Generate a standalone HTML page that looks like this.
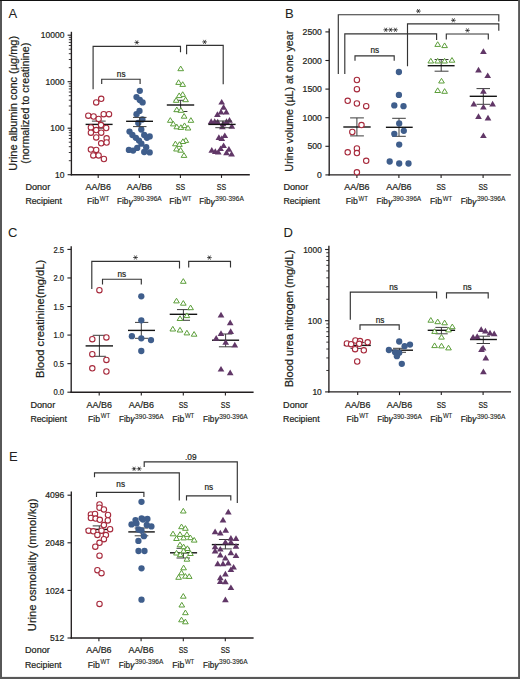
<!DOCTYPE html>
<html><head><meta charset="utf-8"><title>Figure</title>
<style>
html,body{margin:0;padding:0;background:#fff;}
body{width:520px;height:679px;overflow:hidden;position:relative;}
svg{position:absolute;left:0;top:0;display:block;}
text{font-family:"Liberation Sans",sans-serif;stroke:#231f20;stroke-width:0.22px;}
</style></head>
<body>
<svg width="520" height="679" viewBox="0 0 520 679" fill="#231f20">
<rect x="0" y="0" width="520" height="679" fill="#fff"/>
<text x="8.5" y="18.4" font-size="13" style="stroke-width:0.05px">A</text>
<line x1="71.4" y1="31.8" x2="71.4" y2="175.4" stroke="#231f20" stroke-width="1.35"/>
<line x1="67.6" y1="35.2" x2="71.4" y2="35.2" stroke="#231f20" stroke-width="1.1"/>
<text x="64.4" y="38.3" font-size="8.6" text-anchor="end" textLength="23.6" lengthAdjust="spacingAndGlyphs">10000</text>
<line x1="67.6" y1="81.7" x2="71.4" y2="81.7" stroke="#231f20" stroke-width="1.1"/>
<text x="64.4" y="84.8" font-size="8.6" text-anchor="end" textLength="18.9" lengthAdjust="spacingAndGlyphs">1000</text>
<line x1="67.6" y1="128.2" x2="71.4" y2="128.2" stroke="#231f20" stroke-width="1.1"/>
<text x="64.4" y="131.3" font-size="8.6" text-anchor="end" textLength="14.2" lengthAdjust="spacingAndGlyphs">100</text>
<line x1="67.6" y1="174.7" x2="71.4" y2="174.7" stroke="#231f20" stroke-width="1.1"/>
<text x="64.4" y="177.8" font-size="8.6" text-anchor="end" textLength="9.5" lengthAdjust="spacingAndGlyphs">10</text>
<line x1="68.8" y1="160.7" x2="71.4" y2="160.7" stroke="#231f20" stroke-width="0.9"/>
<line x1="68.8" y1="152.51" x2="71.4" y2="152.51" stroke="#231f20" stroke-width="0.9"/>
<line x1="68.8" y1="146.7" x2="71.4" y2="146.7" stroke="#231f20" stroke-width="0.9"/>
<line x1="68.8" y1="142.2" x2="71.4" y2="142.2" stroke="#231f20" stroke-width="0.9"/>
<line x1="68.8" y1="138.52" x2="71.4" y2="138.52" stroke="#231f20" stroke-width="0.9"/>
<line x1="68.8" y1="135.4" x2="71.4" y2="135.4" stroke="#231f20" stroke-width="0.9"/>
<line x1="68.8" y1="132.71" x2="71.4" y2="132.71" stroke="#231f20" stroke-width="0.9"/>
<line x1="68.8" y1="130.33" x2="71.4" y2="130.33" stroke="#231f20" stroke-width="0.9"/>
<line x1="68.8" y1="114.2" x2="71.4" y2="114.2" stroke="#231f20" stroke-width="0.9"/>
<line x1="68.8" y1="106.01" x2="71.4" y2="106.01" stroke="#231f20" stroke-width="0.9"/>
<line x1="68.8" y1="100.2" x2="71.4" y2="100.2" stroke="#231f20" stroke-width="0.9"/>
<line x1="68.8" y1="95.7" x2="71.4" y2="95.7" stroke="#231f20" stroke-width="0.9"/>
<line x1="68.8" y1="92.02" x2="71.4" y2="92.02" stroke="#231f20" stroke-width="0.9"/>
<line x1="68.8" y1="88.9" x2="71.4" y2="88.9" stroke="#231f20" stroke-width="0.9"/>
<line x1="68.8" y1="86.21" x2="71.4" y2="86.21" stroke="#231f20" stroke-width="0.9"/>
<line x1="68.8" y1="83.83" x2="71.4" y2="83.83" stroke="#231f20" stroke-width="0.9"/>
<line x1="68.8" y1="67.7" x2="71.4" y2="67.7" stroke="#231f20" stroke-width="0.9"/>
<line x1="68.8" y1="59.51" x2="71.4" y2="59.51" stroke="#231f20" stroke-width="0.9"/>
<line x1="68.8" y1="53.7" x2="71.4" y2="53.7" stroke="#231f20" stroke-width="0.9"/>
<line x1="68.8" y1="49.2" x2="71.4" y2="49.2" stroke="#231f20" stroke-width="0.9"/>
<line x1="68.8" y1="45.52" x2="71.4" y2="45.52" stroke="#231f20" stroke-width="0.9"/>
<line x1="68.8" y1="42.4" x2="71.4" y2="42.4" stroke="#231f20" stroke-width="0.9"/>
<line x1="68.8" y1="39.71" x2="71.4" y2="39.71" stroke="#231f20" stroke-width="0.9"/>
<line x1="68.8" y1="37.33" x2="71.4" y2="37.33" stroke="#231f20" stroke-width="0.9"/>
<line x1="70.7" y1="174.7" x2="249.8" y2="174.7" stroke="#231f20" stroke-width="1.35"/>
<line x1="98.2" y1="174.7" x2="98.2" y2="177.9" stroke="#231f20" stroke-width="1.1"/>
<line x1="139.4" y1="174.7" x2="139.4" y2="177.9" stroke="#231f20" stroke-width="1.1"/>
<line x1="180.4" y1="174.7" x2="180.4" y2="177.9" stroke="#231f20" stroke-width="1.1"/>
<line x1="221.5" y1="174.7" x2="221.5" y2="177.9" stroke="#231f20" stroke-width="1.1"/>
<text transform="translate(16.8,103.3) rotate(-90)" font-size="10.5" text-anchor="middle" textLength="134.7" lengthAdjust="spacingAndGlyphs">Urine albumin conc (µg/mg)</text>
<text transform="translate(29,103.2) rotate(-90)" font-size="10.5" text-anchor="middle" textLength="121" lengthAdjust="spacingAndGlyphs">(normalized to creatinine)</text>
<text x="25.4" y="190.2" font-size="9" textLength="24.8" lengthAdjust="spacingAndGlyphs">Donor</text>
<text x="25.4" y="204.3" font-size="9" textLength="36.5" lengthAdjust="spacingAndGlyphs">Recipient</text>
<text x="98.2" y="190.2" font-size="9" text-anchor="middle" textLength="25.3" lengthAdjust="spacingAndGlyphs">AA/B6</text>
<text x="87.1" y="204.3" font-size="9" textLength="12" lengthAdjust="spacingAndGlyphs">Fib</text>
<text x="99.8" y="200.9" font-size="7.2" textLength="9.4" lengthAdjust="spacingAndGlyphs" style="stroke-width:0.12px">WT</text>
<text x="139.4" y="190.2" font-size="9" text-anchor="middle" textLength="25.3" lengthAdjust="spacingAndGlyphs">AA/B6</text>
<text x="117.1" y="204.3" font-size="9" textLength="11.3" lengthAdjust="spacingAndGlyphs">Fib</text>
<text x="128.4" y="204.6" font-size="8.2" textLength="4.4" lengthAdjust="spacingAndGlyphs" style="font-style:italic">γ</text>
<text x="133.2" y="201.1" font-size="7.2" textLength="28.5" lengthAdjust="spacingAndGlyphs" style="stroke-width:0.12px">390-396A</text>
<text x="180.4" y="190.2" font-size="9" text-anchor="middle" textLength="9.3" lengthAdjust="spacingAndGlyphs">SS</text>
<text x="169.3" y="204.3" font-size="9" textLength="12" lengthAdjust="spacingAndGlyphs">Fib</text>
<text x="182" y="200.9" font-size="7.2" textLength="9.4" lengthAdjust="spacingAndGlyphs" style="stroke-width:0.12px">WT</text>
<text x="221.5" y="190.2" font-size="9" text-anchor="middle" textLength="9.3" lengthAdjust="spacingAndGlyphs">SS</text>
<text x="199.2" y="204.3" font-size="9" textLength="11.3" lengthAdjust="spacingAndGlyphs">Fib</text>
<text x="210.5" y="204.6" font-size="8.2" textLength="4.4" lengthAdjust="spacingAndGlyphs" style="font-style:italic">γ</text>
<text x="215.3" y="201.1" font-size="7.2" textLength="28.5" lengthAdjust="spacingAndGlyphs" style="stroke-width:0.12px">390-396A</text>
<polyline points="93.1,88.6 93.1,46.3 180.5,46.3 180.5,51.6" fill="none" stroke="#333333" stroke-width="1.15" stroke-linejoin="miter" stroke-linecap="square"/>
<path d="M134.8 42.4L138.8 42.4M135.8 40.67L137.8 44.13M135.8 44.13L137.8 40.67" stroke="#444" stroke-width="0.85" stroke-linecap="round"/>
<circle cx="136.8" cy="42.4" r="0.75" fill="#222"/>
<polyline points="101.7,83.3 101.7,79.2 140.1,79.2 140.1,83.3" fill="none" stroke="#333333" stroke-width="1.15" stroke-linejoin="miter" stroke-linecap="square"/>
<text x="121.2" y="76.8" font-size="8.7" text-anchor="middle" textLength="8.7" lengthAdjust="spacingAndGlyphs">ns</text>
<polyline points="186.6,53.7 186.6,45.4 223.2,45.4 223.2,83.7" fill="none" stroke="#333333" stroke-width="1.15" stroke-linejoin="miter" stroke-linecap="square"/>
<path d="M202.6 41.9L206.6 41.9M203.6 40.17L205.6 43.63M203.6 43.63L205.6 40.17" stroke="#444" stroke-width="0.85" stroke-linecap="round"/>
<circle cx="204.6" cy="41.9" r="0.75" fill="#222"/>
<line x1="98.6" y1="121.1" x2="98.6" y2="128.2" stroke="#3c3c3c" stroke-width="1.0"/>
<line x1="91.9" y1="121.1" x2="105.7" y2="121.1" stroke="#3c3c3c" stroke-width="1.0"/>
<line x1="91.9" y1="128.2" x2="105.7" y2="128.2" stroke="#3c3c3c" stroke-width="1.0"/>
<line x1="85.6" y1="124.4" x2="112.6" y2="124.4" stroke="#141414" stroke-width="1.4"/>
<circle cx="101.2" cy="98.8" r="2.7" fill="#fff" stroke="#a72a3c" stroke-width="1.1"/>
<circle cx="96.2" cy="102.4" r="2.7" fill="#fff" stroke="#a72a3c" stroke-width="1.1"/>
<circle cx="88.3" cy="115.7" r="2.7" fill="#fff" stroke="#a72a3c" stroke-width="1.1"/>
<circle cx="93.6" cy="116.5" r="2.7" fill="#fff" stroke="#a72a3c" stroke-width="1.1"/>
<circle cx="103.7" cy="114.2" r="2.7" fill="#fff" stroke="#a72a3c" stroke-width="1.1"/>
<circle cx="109" cy="114.2" r="2.7" fill="#fff" stroke="#a72a3c" stroke-width="1.1"/>
<circle cx="98.6" cy="118.9" r="2.7" fill="#fff" stroke="#a72a3c" stroke-width="1.1"/>
<circle cx="101" cy="125.1" r="2.7" fill="#fff" stroke="#a72a3c" stroke-width="1.1"/>
<circle cx="90.9" cy="127.5" r="2.7" fill="#fff" stroke="#a72a3c" stroke-width="1.1"/>
<circle cx="106.2" cy="128" r="2.7" fill="#fff" stroke="#a72a3c" stroke-width="1.1"/>
<circle cx="96.2" cy="130.1" r="2.7" fill="#fff" stroke="#a72a3c" stroke-width="1.1"/>
<circle cx="90.9" cy="132.7" r="2.7" fill="#fff" stroke="#a72a3c" stroke-width="1.1"/>
<circle cx="101.2" cy="132.7" r="2.7" fill="#fff" stroke="#a72a3c" stroke-width="1.1"/>
<circle cx="96.2" cy="137.4" r="2.7" fill="#fff" stroke="#a72a3c" stroke-width="1.1"/>
<circle cx="106.6" cy="138.3" r="2.7" fill="#fff" stroke="#a72a3c" stroke-width="1.1"/>
<circle cx="101.2" cy="143.3" r="2.7" fill="#fff" stroke="#a72a3c" stroke-width="1.1"/>
<circle cx="106.6" cy="142.5" r="2.7" fill="#fff" stroke="#a72a3c" stroke-width="1.1"/>
<circle cx="90.9" cy="149.6" r="2.7" fill="#fff" stroke="#a72a3c" stroke-width="1.1"/>
<circle cx="96.2" cy="149.9" r="2.7" fill="#fff" stroke="#a72a3c" stroke-width="1.1"/>
<circle cx="93.3" cy="155.4" r="2.7" fill="#fff" stroke="#a72a3c" stroke-width="1.1"/>
<circle cx="98.6" cy="155.4" r="2.7" fill="#fff" stroke="#a72a3c" stroke-width="1.1"/>
<circle cx="103.9" cy="159" r="2.7" fill="#fff" stroke="#a72a3c" stroke-width="1.1"/>
<circle cx="139.8" cy="90.8" r="3.15" fill="#3f5e8c"/>
<circle cx="136.5" cy="97.1" r="3.15" fill="#3f5e8c"/>
<circle cx="139.8" cy="100" r="3.15" fill="#3f5e8c"/>
<circle cx="142.6" cy="102.4" r="3.15" fill="#3f5e8c"/>
<circle cx="139.5" cy="110.9" r="3.15" fill="#3f5e8c"/>
<circle cx="136.5" cy="114.2" r="3.15" fill="#3f5e8c"/>
<circle cx="142.4" cy="119.5" r="3.15" fill="#3f5e8c"/>
<circle cx="138.3" cy="123" r="3.15" fill="#3f5e8c"/>
<circle cx="141.3" cy="129.5" r="3.15" fill="#3f5e8c"/>
<circle cx="129.5" cy="131.6" r="3.15" fill="#3f5e8c"/>
<circle cx="132.4" cy="135" r="3.15" fill="#3f5e8c"/>
<circle cx="144.2" cy="135" r="3.15" fill="#3f5e8c"/>
<circle cx="149.7" cy="136.4" r="3.15" fill="#3f5e8c"/>
<circle cx="146.9" cy="137.8" r="3.15" fill="#3f5e8c"/>
<circle cx="135.9" cy="137.8" r="3.15" fill="#3f5e8c"/>
<circle cx="139" cy="140.6" r="3.15" fill="#3f5e8c"/>
<circle cx="141.4" cy="143.7" r="3.15" fill="#3f5e8c"/>
<circle cx="146.2" cy="147.2" r="3.15" fill="#3f5e8c"/>
<circle cx="137.2" cy="147.9" r="3.15" fill="#3f5e8c"/>
<circle cx="128.9" cy="149.9" r="3.15" fill="#3f5e8c"/>
<circle cx="133.1" cy="150.6" r="3.15" fill="#3f5e8c"/>
<circle cx="144.2" cy="152" r="3.15" fill="#3f5e8c"/>
<circle cx="149.7" cy="152.4" r="3.15" fill="#3f5e8c"/>
<line x1="139.7" y1="117.4" x2="139.7" y2="126.6" stroke="#3c3c3c" stroke-width="1.0"/>
<line x1="133" y1="117.4" x2="146.5" y2="117.4" stroke="#3c3c3c" stroke-width="1.0"/>
<line x1="133" y1="126.6" x2="146.5" y2="126.6" stroke="#3c3c3c" stroke-width="1.0"/>
<line x1="126.1" y1="121.3" x2="153" y2="121.3" stroke="#141414" stroke-width="1.4"/>
<line x1="180.6" y1="100.3" x2="180.6" y2="111.5" stroke="#3c3c3c" stroke-width="1.0"/>
<line x1="173.8" y1="100.3" x2="187.4" y2="100.3" stroke="#3c3c3c" stroke-width="1.0"/>
<line x1="173.8" y1="111.5" x2="187.4" y2="111.5" stroke="#3c3c3c" stroke-width="1.0"/>
<line x1="166.8" y1="105" x2="194.2" y2="105" stroke="#141414" stroke-width="1.4"/>
<polygon points="180.7,66.05 183.55,70.7 177.85,70.7" fill="#fff" stroke="#5c9e3a" stroke-width="1.0" stroke-linejoin="miter"/>
<polygon points="178.6,79.75 181.45,84.4 175.75,84.4" fill="#fff" stroke="#5c9e3a" stroke-width="1.0" stroke-linejoin="miter"/>
<polygon points="182.7,81.75 185.55,86.4 179.85,86.4" fill="#fff" stroke="#5c9e3a" stroke-width="1.0" stroke-linejoin="miter"/>
<polygon points="182.7,91.75 185.55,96.4 179.85,96.4" fill="#fff" stroke="#5c9e3a" stroke-width="1.0" stroke-linejoin="miter"/>
<polygon points="179.2,92.95 182.05,97.6 176.35,97.6" fill="#fff" stroke="#5c9e3a" stroke-width="1.0" stroke-linejoin="miter"/>
<polygon points="185.6,97.05 188.45,101.7 182.75,101.7" fill="#fff" stroke="#5c9e3a" stroke-width="1.0" stroke-linejoin="miter"/>
<polygon points="176.2,97.65 179.05,102.3 173.35,102.3" fill="#fff" stroke="#5c9e3a" stroke-width="1.0" stroke-linejoin="miter"/>
<polygon points="176.8,107.05 179.65,111.7 173.95,111.7" fill="#fff" stroke="#5c9e3a" stroke-width="1.0" stroke-linejoin="miter"/>
<polygon points="180.9,107.65 183.75,112.3 178.05,112.3" fill="#fff" stroke="#5c9e3a" stroke-width="1.0" stroke-linejoin="miter"/>
<polygon points="184.1,113.55 186.95,118.2 181.25,118.2" fill="#fff" stroke="#5c9e3a" stroke-width="1.0" stroke-linejoin="miter"/>
<polygon points="170.3,117.65 173.15,122.3 167.45,122.3" fill="#fff" stroke="#5c9e3a" stroke-width="1.0" stroke-linejoin="miter"/>
<polygon points="190.9,117.65 193.75,122.3 188.05,122.3" fill="#fff" stroke="#5c9e3a" stroke-width="1.0" stroke-linejoin="miter"/>
<polygon points="173.3,121.25 176.15,125.9 170.45,125.9" fill="#fff" stroke="#5c9e3a" stroke-width="1.0" stroke-linejoin="miter"/>
<polygon points="176.8,124.15 179.65,128.8 173.95,128.8" fill="#fff" stroke="#5c9e3a" stroke-width="1.0" stroke-linejoin="miter"/>
<polygon points="180.9,124.75 183.75,129.4 178.05,129.4" fill="#fff" stroke="#5c9e3a" stroke-width="1.0" stroke-linejoin="miter"/>
<polygon points="184.5,122.95 187.35,127.6 181.65,127.6" fill="#fff" stroke="#5c9e3a" stroke-width="1.0" stroke-linejoin="miter"/>
<polygon points="188,125.35 190.85,130 185.15,130" fill="#fff" stroke="#5c9e3a" stroke-width="1.0" stroke-linejoin="miter"/>
<polygon points="185.8,137.75 188.65,142.4 182.95,142.4" fill="#fff" stroke="#5c9e3a" stroke-width="1.0" stroke-linejoin="miter"/>
<polygon points="182.9,138.85 185.75,143.5 180.05,143.5" fill="#fff" stroke="#5c9e3a" stroke-width="1.0" stroke-linejoin="miter"/>
<polygon points="175.4,141.15 178.25,145.8 172.55,145.8" fill="#fff" stroke="#5c9e3a" stroke-width="1.0" stroke-linejoin="miter"/>
<polygon points="179.4,141.75 182.25,146.4 176.55,146.4" fill="#fff" stroke="#5c9e3a" stroke-width="1.0" stroke-linejoin="miter"/>
<polygon points="176.5,146.35 179.35,151 173.65,151" fill="#fff" stroke="#5c9e3a" stroke-width="1.0" stroke-linejoin="miter"/>
<polygon points="180.6,147.55 183.45,152.2 177.75,152.2" fill="#fff" stroke="#5c9e3a" stroke-width="1.0" stroke-linejoin="miter"/>
<polygon points="184,152.75 186.85,157.4 181.15,157.4" fill="#fff" stroke="#5c9e3a" stroke-width="1.0" stroke-linejoin="miter"/>
<polygon points="221.7,98.9 225.05,104.6 218.35,104.6" fill="#613767"/>
<polygon points="223.6,104 226.95,109.7 220.25,109.7" fill="#613767"/>
<polygon points="221,108.8 224.35,114.5 217.65,114.5" fill="#613767"/>
<polygon points="226.3,108.8 229.65,114.5 222.95,114.5" fill="#613767"/>
<polygon points="217.4,111.2 220.75,116.9 214.05,116.9" fill="#613767"/>
<polygon points="211.2,118.3 214.55,124 207.85,124" fill="#613767"/>
<polygon points="214.7,118.3 218.05,124 211.35,124" fill="#613767"/>
<polygon points="217.7,118.8 221.05,124.5 214.35,124.5" fill="#613767"/>
<polygon points="229.5,117.1 232.85,122.8 226.15,122.8" fill="#613767"/>
<polygon points="226.5,118.3 229.85,124 223.15,124" fill="#613767"/>
<polygon points="223,120.6 226.35,126.3 219.65,126.3" fill="#613767"/>
<polygon points="231.8,123 235.15,128.7 228.45,128.7" fill="#613767"/>
<polygon points="222.4,123.6 225.75,129.3 219.05,129.3" fill="#613767"/>
<polygon points="224.8,132.4 228.15,138.1 221.45,138.1" fill="#613767"/>
<polygon points="218.9,134.2 222.25,139.9 215.55,139.9" fill="#613767"/>
<polygon points="221.8,135.3 225.15,141 218.45,141" fill="#613767"/>
<polygon points="223.6,142.4 226.95,148.1 220.25,148.1" fill="#613767"/>
<polygon points="220.6,145.4 223.95,151.1 217.25,151.1" fill="#613767"/>
<polygon points="211.8,147.1 215.15,152.8 208.45,152.8" fill="#613767"/>
<polygon points="215.3,148.3 218.65,154 211.95,154" fill="#613767"/>
<polygon points="218.3,148.9 221.65,154.6 214.95,154.6" fill="#613767"/>
<polygon points="228.9,146 232.25,151.7 225.55,151.7" fill="#613767"/>
<polygon points="226.5,149.5 229.85,155.2 223.15,155.2" fill="#613767"/>
<polygon points="231.6,150.7 234.95,156.4 228.25,156.4" fill="#613767"/>
<line x1="222.8" y1="121" x2="222.8" y2="127.7" stroke="#3c3c3c" stroke-width="1.0"/>
<line x1="215.3" y1="121" x2="231.8" y2="121" stroke="#3c3c3c" stroke-width="1.0"/>
<line x1="215.3" y1="127.7" x2="231.8" y2="127.7" stroke="#3c3c3c" stroke-width="1.0"/>
<line x1="208.3" y1="124.4" x2="235.6" y2="124.4" stroke="#141414" stroke-width="1.4"/>
<text x="284.9" y="18.4" font-size="13" style="stroke-width:0.05px">B</text>
<line x1="329.2" y1="28.6" x2="329.2" y2="175.6" stroke="#231f20" stroke-width="1.35"/>
<line x1="325.4" y1="31.9" x2="329.2" y2="31.9" stroke="#231f20" stroke-width="1.1"/>
<text x="321.8" y="35" font-size="8.6" text-anchor="end" textLength="19.2" lengthAdjust="spacingAndGlyphs">2500</text>
<line x1="325.4" y1="60.5" x2="329.2" y2="60.5" stroke="#231f20" stroke-width="1.1"/>
<text x="321.8" y="63.6" font-size="8.6" text-anchor="end" textLength="19.2" lengthAdjust="spacingAndGlyphs">2000</text>
<line x1="325.4" y1="89.1" x2="329.2" y2="89.1" stroke="#231f20" stroke-width="1.1"/>
<text x="321.8" y="92.2" font-size="8.6" text-anchor="end" textLength="19.2" lengthAdjust="spacingAndGlyphs">1500</text>
<line x1="325.4" y1="117.7" x2="329.2" y2="117.7" stroke="#231f20" stroke-width="1.1"/>
<text x="321.8" y="120.8" font-size="8.6" text-anchor="end" textLength="19.2" lengthAdjust="spacingAndGlyphs">1000</text>
<line x1="325.4" y1="146.3" x2="329.2" y2="146.3" stroke="#231f20" stroke-width="1.1"/>
<text x="321.8" y="149.4" font-size="8.6" text-anchor="end" textLength="14.4" lengthAdjust="spacingAndGlyphs">500</text>
<line x1="325.4" y1="174.9" x2="329.2" y2="174.9" stroke="#231f20" stroke-width="1.1"/>
<text x="321.8" y="178" font-size="8.6" text-anchor="end" textLength="4.8" lengthAdjust="spacingAndGlyphs">0</text>
<line x1="328.5" y1="174.9" x2="510.8" y2="174.9" stroke="#231f20" stroke-width="1.35"/>
<line x1="356.9" y1="174.9" x2="356.9" y2="178.1" stroke="#231f20" stroke-width="1.1"/>
<line x1="398.9" y1="174.9" x2="398.9" y2="178.1" stroke="#231f20" stroke-width="1.1"/>
<line x1="441.1" y1="174.9" x2="441.1" y2="178.1" stroke="#231f20" stroke-width="1.1"/>
<line x1="483.1" y1="174.9" x2="483.1" y2="178.1" stroke="#231f20" stroke-width="1.1"/>
<text transform="translate(292.6,101.3) rotate(-90)" font-size="10.5" text-anchor="middle" textLength="141" lengthAdjust="spacingAndGlyphs">Urine volume (µL) at one year</text>
<text x="283.4" y="190.2" font-size="9" textLength="24.8" lengthAdjust="spacingAndGlyphs">Donor</text>
<text x="283.4" y="204.3" font-size="9" textLength="36.5" lengthAdjust="spacingAndGlyphs">Recipient</text>
<text x="356.9" y="190.2" font-size="9" text-anchor="middle" textLength="25.3" lengthAdjust="spacingAndGlyphs">AA/B6</text>
<text x="345.8" y="204.3" font-size="9" textLength="12" lengthAdjust="spacingAndGlyphs">Fib</text>
<text x="358.5" y="200.9" font-size="7.2" textLength="9.4" lengthAdjust="spacingAndGlyphs" style="stroke-width:0.12px">WT</text>
<text x="398.9" y="190.2" font-size="9" text-anchor="middle" textLength="25.3" lengthAdjust="spacingAndGlyphs">AA/B6</text>
<text x="376.6" y="204.3" font-size="9" textLength="11.3" lengthAdjust="spacingAndGlyphs">Fib</text>
<text x="387.9" y="204.6" font-size="8.2" textLength="4.4" lengthAdjust="spacingAndGlyphs" style="font-style:italic">γ</text>
<text x="392.7" y="201.1" font-size="7.2" textLength="28.5" lengthAdjust="spacingAndGlyphs" style="stroke-width:0.12px">390-396A</text>
<text x="441.1" y="190.2" font-size="9" text-anchor="middle" textLength="9.3" lengthAdjust="spacingAndGlyphs">SS</text>
<text x="430" y="204.3" font-size="9" textLength="12" lengthAdjust="spacingAndGlyphs">Fib</text>
<text x="442.7" y="200.9" font-size="7.2" textLength="9.4" lengthAdjust="spacingAndGlyphs" style="stroke-width:0.12px">WT</text>
<text x="483.1" y="190.2" font-size="9" text-anchor="middle" textLength="9.3" lengthAdjust="spacingAndGlyphs">SS</text>
<text x="460.8" y="204.3" font-size="9" textLength="11.3" lengthAdjust="spacingAndGlyphs">Fib</text>
<text x="472.1" y="204.6" font-size="8.2" textLength="4.4" lengthAdjust="spacingAndGlyphs" style="font-style:italic">γ</text>
<text x="476.9" y="201.1" font-size="7.2" textLength="28.5" lengthAdjust="spacingAndGlyphs" style="stroke-width:0.12px">390-396A</text>
<polyline points="338.3,73.5 338.3,14.7 498.8,14.7 498.8,21" fill="none" stroke="#333333" stroke-width="1.15" stroke-linejoin="miter" stroke-linecap="square"/>
<path d="M416.4 11.1L420.4 11.1M417.4 9.37L419.4 12.83M417.4 12.83L419.4 9.37" stroke="#444" stroke-width="0.85" stroke-linecap="round"/>
<circle cx="418.4" cy="11.1" r="0.75" fill="#222"/>
<polyline points="407.5,65.6 407.5,23.8 498.8,23.8 498.8,30.1" fill="none" stroke="#333333" stroke-width="1.15" stroke-linejoin="miter" stroke-linecap="square"/>
<path d="M451.4 20.3L455.4 20.3M452.4 18.57L454.4 22.03M452.4 22.03L454.4 18.57" stroke="#444" stroke-width="0.85" stroke-linecap="round"/>
<circle cx="453.4" cy="20.3" r="0.75" fill="#222"/>
<polyline points="344.8,73.5 344.8,33.8 436.6,33.8 436.6,39.5" fill="none" stroke="#333333" stroke-width="1.15" stroke-linejoin="miter" stroke-linecap="square"/>
<path d="M383.75 29.8L387.75 29.8M384.75 28.07L386.75 31.53M384.75 31.53L386.75 28.07" stroke="#444" stroke-width="0.85" stroke-linecap="round"/>
<circle cx="385.75" cy="29.8" r="0.75" fill="#222"/>
<path d="M388.6 29.8L392.6 29.8M389.6 28.07L391.6 31.53M389.6 31.53L391.6 28.07" stroke="#444" stroke-width="0.85" stroke-linecap="round"/>
<circle cx="390.6" cy="29.8" r="0.75" fill="#222"/>
<path d="M393.45 29.8L397.45 29.8M394.45 28.07L396.45 31.53M394.45 31.53L396.45 28.07" stroke="#444" stroke-width="0.85" stroke-linecap="round"/>
<circle cx="395.45" cy="29.8" r="0.75" fill="#222"/>
<polyline points="355,60.1 355,55.9 394.2,55.9 394.2,60.1" fill="none" stroke="#333333" stroke-width="1.15" stroke-linejoin="miter" stroke-linecap="square"/>
<text x="374.8" y="53.4" font-size="8.7" text-anchor="middle" textLength="8.7" lengthAdjust="spacingAndGlyphs">ns</text>
<polyline points="446.3,38.8 446.3,34 488.3,34 488.3,38.8" fill="none" stroke="#333333" stroke-width="1.15" stroke-linejoin="miter" stroke-linecap="square"/>
<path d="M465.5 30.4L469.5 30.4M466.5 28.67L468.5 32.13M466.5 32.13L468.5 28.67" stroke="#444" stroke-width="0.85" stroke-linecap="round"/>
<circle cx="467.5" cy="30.4" r="0.75" fill="#222"/>
<line x1="356.9" y1="117.9" x2="356.9" y2="135.9" stroke="#3c3c3c" stroke-width="1.0"/>
<line x1="350.1" y1="117.9" x2="363.9" y2="117.9" stroke="#3c3c3c" stroke-width="1.0"/>
<line x1="350.1" y1="135.9" x2="363.9" y2="135.9" stroke="#3c3c3c" stroke-width="1.0"/>
<line x1="343.3" y1="127" x2="370.7" y2="127" stroke="#141414" stroke-width="1.4"/>
<circle cx="356.9" cy="80" r="2.7" fill="#fff" stroke="#a72a3c" stroke-width="1.1"/>
<circle cx="356.9" cy="89.2" r="2.7" fill="#fff" stroke="#a72a3c" stroke-width="1.1"/>
<circle cx="347.7" cy="100.8" r="2.7" fill="#fff" stroke="#a72a3c" stroke-width="1.1"/>
<circle cx="356.9" cy="103.5" r="2.7" fill="#fff" stroke="#a72a3c" stroke-width="1.1"/>
<circle cx="366.2" cy="106.2" r="2.7" fill="#fff" stroke="#a72a3c" stroke-width="1.1"/>
<circle cx="361.5" cy="125.1" r="2.7" fill="#fff" stroke="#a72a3c" stroke-width="1.1"/>
<circle cx="352.3" cy="132" r="2.7" fill="#fff" stroke="#a72a3c" stroke-width="1.1"/>
<circle cx="356.9" cy="148.5" r="2.7" fill="#fff" stroke="#a72a3c" stroke-width="1.1"/>
<circle cx="347.7" cy="152.3" r="2.7" fill="#fff" stroke="#a72a3c" stroke-width="1.1"/>
<circle cx="356.9" cy="153.1" r="2.7" fill="#fff" stroke="#a72a3c" stroke-width="1.1"/>
<circle cx="366.2" cy="160.8" r="2.7" fill="#fff" stroke="#a72a3c" stroke-width="1.1"/>
<circle cx="356.9" cy="172.3" r="2.7" fill="#fff" stroke="#a72a3c" stroke-width="1.1"/>
<line x1="399" y1="118.3" x2="399" y2="136.3" stroke="#3c3c3c" stroke-width="1.0"/>
<line x1="392.2" y1="118.3" x2="405.8" y2="118.3" stroke="#3c3c3c" stroke-width="1.0"/>
<line x1="392.2" y1="136.3" x2="405.8" y2="136.3" stroke="#3c3c3c" stroke-width="1.0"/>
<line x1="385.9" y1="127.3" x2="412.7" y2="127.3" stroke="#141414" stroke-width="1.4"/>
<circle cx="398.9" cy="72" r="3.15" fill="#3f5e8c"/>
<circle cx="398.9" cy="94.9" r="3.15" fill="#3f5e8c"/>
<circle cx="394.3" cy="105.4" r="3.15" fill="#3f5e8c"/>
<circle cx="403.5" cy="106.2" r="3.15" fill="#3f5e8c"/>
<circle cx="399.2" cy="123.4" r="3.15" fill="#3f5e8c"/>
<circle cx="403.8" cy="130.8" r="3.15" fill="#3f5e8c"/>
<circle cx="394.3" cy="133.8" r="3.15" fill="#3f5e8c"/>
<circle cx="399.2" cy="144.6" r="3.15" fill="#3f5e8c"/>
<circle cx="389.7" cy="161.5" r="3.15" fill="#3f5e8c"/>
<circle cx="399.2" cy="163.5" r="3.15" fill="#3f5e8c"/>
<circle cx="408.5" cy="163.5" r="3.15" fill="#3f5e8c"/>
<line x1="441.2" y1="59.5" x2="441.2" y2="71.2" stroke="#3c3c3c" stroke-width="1.0"/>
<line x1="434.6" y1="59.5" x2="448.5" y2="59.5" stroke="#3c3c3c" stroke-width="1.0"/>
<line x1="434.6" y1="71.2" x2="448.5" y2="71.2" stroke="#3c3c3c" stroke-width="1.0"/>
<line x1="427.7" y1="65.7" x2="454.6" y2="65.7" stroke="#141414" stroke-width="1.4"/>
<polygon points="437.7,41.75 440.55,46.4 434.85,46.4" fill="#fff" stroke="#5c9e3a" stroke-width="1.0" stroke-linejoin="miter"/>
<polygon points="444.6,42.95 447.45,47.6 441.75,47.6" fill="#fff" stroke="#5c9e3a" stroke-width="1.0" stroke-linejoin="miter"/>
<polygon points="430.8,58.35 433.65,63 427.95,63" fill="#fff" stroke="#5c9e3a" stroke-width="1.0" stroke-linejoin="miter"/>
<polygon points="437.7,58.35 440.55,63 434.85,63" fill="#fff" stroke="#5c9e3a" stroke-width="1.0" stroke-linejoin="miter"/>
<polygon points="444.6,58.35 447.45,63 441.75,63" fill="#fff" stroke="#5c9e3a" stroke-width="1.0" stroke-linejoin="miter"/>
<polygon points="452,57.55 454.85,62.2 449.15,62.2" fill="#fff" stroke="#5c9e3a" stroke-width="1.0" stroke-linejoin="miter"/>
<polygon points="441.5,78.35 444.35,83 438.65,83" fill="#fff" stroke="#5c9e3a" stroke-width="1.0" stroke-linejoin="miter"/>
<polygon points="437.7,87.85 440.55,92.5 434.85,92.5" fill="#fff" stroke="#5c9e3a" stroke-width="1.0" stroke-linejoin="miter"/>
<polygon points="444.6,88.65 447.45,93.3 441.75,93.3" fill="#fff" stroke="#5c9e3a" stroke-width="1.0" stroke-linejoin="miter"/>
<line x1="483.3" y1="88.6" x2="483.3" y2="104.3" stroke="#3c3c3c" stroke-width="1.0"/>
<line x1="476.5" y1="88.6" x2="490" y2="88.6" stroke="#3c3c3c" stroke-width="1.0"/>
<line x1="476.5" y1="104.3" x2="490" y2="104.3" stroke="#3c3c3c" stroke-width="1.0"/>
<line x1="469.7" y1="96.3" x2="496.9" y2="96.3" stroke="#141414" stroke-width="1.4"/>
<polygon points="483.4,48.2 486.75,53.9 480.05,53.9" fill="#613767"/>
<polygon points="478.5,66.7 481.85,72.4 475.15,72.4" fill="#613767"/>
<polygon points="487.7,72.4 491.05,78.1 484.35,78.1" fill="#613767"/>
<polygon points="483.4,88.1 486.75,93.8 480.05,93.8" fill="#613767"/>
<polygon points="473.8,100.8 477.15,106.5 470.45,106.5" fill="#613767"/>
<polygon points="483.4,103.9 486.75,109.6 480.05,109.6" fill="#613767"/>
<polygon points="492.6,100.8 495.95,106.5 489.25,106.5" fill="#613767"/>
<polygon points="478.5,113.2 481.85,118.9 475.15,118.9" fill="#613767"/>
<polygon points="488,114.7 491.35,120.4 484.65,120.4" fill="#613767"/>
<polygon points="483.4,132.4 486.75,138.1 480.05,138.1" fill="#613767"/>
<text x="8" y="237.4" font-size="13" style="stroke-width:0.05px">C</text>
<line x1="71.2" y1="246.2" x2="71.2" y2="392.9" stroke="#231f20" stroke-width="1.35"/>
<line x1="67.4" y1="249.4" x2="71.2" y2="249.4" stroke="#231f20" stroke-width="1.1"/>
<text x="64" y="252.5" font-size="8.6" text-anchor="end" textLength="10.6" lengthAdjust="spacingAndGlyphs">2.5</text>
<line x1="67.4" y1="277.96" x2="71.2" y2="277.96" stroke="#231f20" stroke-width="1.1"/>
<text x="64" y="281.06" font-size="8.6" text-anchor="end" textLength="10.6" lengthAdjust="spacingAndGlyphs">2.0</text>
<line x1="67.4" y1="306.52" x2="71.2" y2="306.52" stroke="#231f20" stroke-width="1.1"/>
<text x="64" y="309.62" font-size="8.6" text-anchor="end" textLength="10.6" lengthAdjust="spacingAndGlyphs">1.5</text>
<line x1="67.4" y1="335.08" x2="71.2" y2="335.08" stroke="#231f20" stroke-width="1.1"/>
<text x="64" y="338.18" font-size="8.6" text-anchor="end" textLength="10.6" lengthAdjust="spacingAndGlyphs">1.0</text>
<line x1="67.4" y1="363.64" x2="71.2" y2="363.64" stroke="#231f20" stroke-width="1.1"/>
<text x="64" y="366.74" font-size="8.6" text-anchor="end" textLength="10.6" lengthAdjust="spacingAndGlyphs">0.5</text>
<line x1="67.4" y1="392.2" x2="71.2" y2="392.2" stroke="#231f20" stroke-width="1.1"/>
<text x="64" y="395.3" font-size="8.6" text-anchor="end" textLength="10.6" lengthAdjust="spacingAndGlyphs">0.0</text>
<line x1="70.5" y1="392.2" x2="253.6" y2="392.2" stroke="#231f20" stroke-width="1.35"/>
<line x1="99.2" y1="392.2" x2="99.2" y2="395.4" stroke="#231f20" stroke-width="1.1"/>
<line x1="141.3" y1="392.2" x2="141.3" y2="395.4" stroke="#231f20" stroke-width="1.1"/>
<line x1="183.3" y1="392.2" x2="183.3" y2="395.4" stroke="#231f20" stroke-width="1.1"/>
<line x1="225.4" y1="392.2" x2="225.4" y2="395.4" stroke="#231f20" stroke-width="1.1"/>
<text transform="translate(44.3,318.9) rotate(-90)" font-size="10.5" text-anchor="middle" textLength="118" lengthAdjust="spacingAndGlyphs">Blood creatinine(mg/dL)</text>
<text x="30.4" y="407.7" font-size="9" textLength="24.8" lengthAdjust="spacingAndGlyphs">Donor</text>
<text x="30.4" y="421.7" font-size="9" textLength="36.5" lengthAdjust="spacingAndGlyphs">Recipient</text>
<text x="99.2" y="407.7" font-size="9" text-anchor="middle" textLength="25.3" lengthAdjust="spacingAndGlyphs">AA/B6</text>
<text x="88.1" y="421.7" font-size="9" textLength="12" lengthAdjust="spacingAndGlyphs">Fib</text>
<text x="100.8" y="418.3" font-size="7.2" textLength="9.4" lengthAdjust="spacingAndGlyphs" style="stroke-width:0.12px">WT</text>
<text x="141.3" y="407.7" font-size="9" text-anchor="middle" textLength="25.3" lengthAdjust="spacingAndGlyphs">AA/B6</text>
<text x="119" y="421.7" font-size="9" textLength="11.3" lengthAdjust="spacingAndGlyphs">Fib</text>
<text x="130.3" y="422" font-size="8.2" textLength="4.4" lengthAdjust="spacingAndGlyphs" style="font-style:italic">γ</text>
<text x="135.1" y="418.5" font-size="7.2" textLength="28.5" lengthAdjust="spacingAndGlyphs" style="stroke-width:0.12px">390-396A</text>
<text x="183.3" y="407.7" font-size="9" text-anchor="middle" textLength="9.3" lengthAdjust="spacingAndGlyphs">SS</text>
<text x="172.2" y="421.7" font-size="9" textLength="12" lengthAdjust="spacingAndGlyphs">Fib</text>
<text x="184.9" y="418.3" font-size="7.2" textLength="9.4" lengthAdjust="spacingAndGlyphs" style="stroke-width:0.12px">WT</text>
<text x="225.4" y="407.7" font-size="9" text-anchor="middle" textLength="9.3" lengthAdjust="spacingAndGlyphs">SS</text>
<text x="203.1" y="421.7" font-size="9" textLength="11.3" lengthAdjust="spacingAndGlyphs">Fib</text>
<text x="214.4" y="422" font-size="8.2" textLength="4.4" lengthAdjust="spacingAndGlyphs" style="font-style:italic">γ</text>
<text x="219.2" y="418.5" font-size="7.2" textLength="28.5" lengthAdjust="spacingAndGlyphs" style="stroke-width:0.12px">390-396A</text>
<polyline points="91.8,288.5 91.8,261.4 179.5,261.4 179.5,267.8" fill="none" stroke="#333333" stroke-width="1.15" stroke-linejoin="miter" stroke-linecap="square"/>
<path d="M133.5 257.5L137.5 257.5M134.5 255.77L136.5 259.23M134.5 259.23L136.5 255.77" stroke="#444" stroke-width="0.85" stroke-linecap="round"/>
<circle cx="135.5" cy="257.5" r="0.75" fill="#222"/>
<polyline points="102.5,283.8 102.5,279.2 141.3,279.2 141.3,283.8" fill="none" stroke="#333333" stroke-width="1.15" stroke-linejoin="miter" stroke-linecap="square"/>
<text x="121.9" y="277" font-size="8.7" text-anchor="middle" textLength="8.7" lengthAdjust="spacingAndGlyphs">ns</text>
<polyline points="188.7,267 188.7,261.4 230.5,261.4 230.5,267" fill="none" stroke="#333333" stroke-width="1.15" stroke-linejoin="miter" stroke-linecap="square"/>
<path d="M207.4 257.6L211.4 257.6M208.4 255.87L210.4 259.33M208.4 259.33L210.4 255.87" stroke="#444" stroke-width="0.85" stroke-linecap="round"/>
<circle cx="209.4" cy="257.6" r="0.75" fill="#222"/>
<line x1="99.4" y1="335.3" x2="99.4" y2="356.3" stroke="#3c3c3c" stroke-width="1.0"/>
<line x1="92.7" y1="335.3" x2="105.9" y2="335.3" stroke="#3c3c3c" stroke-width="1.0"/>
<line x1="92.7" y1="356.3" x2="105.9" y2="356.3" stroke="#3c3c3c" stroke-width="1.0"/>
<line x1="85.6" y1="345.9" x2="113" y2="345.9" stroke="#141414" stroke-width="1.4"/>
<circle cx="99.4" cy="290.2" r="2.7" fill="#fff" stroke="#a72a3c" stroke-width="1.1"/>
<circle cx="92.3" cy="339.2" r="2.7" fill="#fff" stroke="#a72a3c" stroke-width="1.1"/>
<circle cx="106.4" cy="337.4" r="2.7" fill="#fff" stroke="#a72a3c" stroke-width="1.1"/>
<circle cx="92.3" cy="354.2" r="2.7" fill="#fff" stroke="#a72a3c" stroke-width="1.1"/>
<circle cx="106.4" cy="359.9" r="2.7" fill="#fff" stroke="#a72a3c" stroke-width="1.1"/>
<circle cx="92.3" cy="368.3" r="2.7" fill="#fff" stroke="#a72a3c" stroke-width="1.1"/>
<circle cx="106.4" cy="371.5" r="2.7" fill="#fff" stroke="#a72a3c" stroke-width="1.1"/>
<line x1="141.3" y1="322.4" x2="141.3" y2="338.3" stroke="#3c3c3c" stroke-width="1.0"/>
<line x1="135" y1="322.4" x2="148.3" y2="322.4" stroke="#3c3c3c" stroke-width="1.0"/>
<line x1="135" y1="338.3" x2="148.3" y2="338.3" stroke="#3c3c3c" stroke-width="1.0"/>
<line x1="128" y1="330.4" x2="155" y2="330.4" stroke="#141414" stroke-width="1.4"/>
<circle cx="141.3" cy="296.3" r="3.15" fill="#3f5e8c"/>
<circle cx="141.3" cy="320.3" r="3.15" fill="#3f5e8c"/>
<circle cx="131.9" cy="336.2" r="3.15" fill="#3f5e8c"/>
<circle cx="141.3" cy="338.3" r="3.15" fill="#3f5e8c"/>
<circle cx="151" cy="340.1" r="3.15" fill="#3f5e8c"/>
<circle cx="141.3" cy="351" r="3.15" fill="#3f5e8c"/>
<line x1="183.4" y1="309.6" x2="183.4" y2="320.3" stroke="#3c3c3c" stroke-width="1.0"/>
<line x1="177" y1="309.6" x2="190" y2="309.6" stroke="#3c3c3c" stroke-width="1.0"/>
<line x1="177" y1="320.3" x2="190" y2="320.3" stroke="#3c3c3c" stroke-width="1.0"/>
<line x1="169.7" y1="314.3" x2="197.2" y2="314.3" stroke="#141414" stroke-width="1.4"/>
<polygon points="183.3,278.65 186.15,283.3 180.45,283.3" fill="#fff" stroke="#5c9e3a" stroke-width="1.0" stroke-linejoin="miter"/>
<polygon points="176.5,298.25 179.35,302.9 173.65,302.9" fill="#fff" stroke="#5c9e3a" stroke-width="1.0" stroke-linejoin="miter"/>
<polygon points="183.3,300.55 186.15,305.2 180.45,305.2" fill="#fff" stroke="#5c9e3a" stroke-width="1.0" stroke-linejoin="miter"/>
<polygon points="190.6,305.05 193.45,309.7 187.75,309.7" fill="#fff" stroke="#5c9e3a" stroke-width="1.0" stroke-linejoin="miter"/>
<polygon points="180,315.85 182.85,320.5 177.15,320.5" fill="#fff" stroke="#5c9e3a" stroke-width="1.0" stroke-linejoin="miter"/>
<polygon points="186.9,312.95 189.75,317.6 184.05,317.6" fill="#fff" stroke="#5c9e3a" stroke-width="1.0" stroke-linejoin="miter"/>
<polygon points="172.8,326.35 175.65,331 169.95,331" fill="#fff" stroke="#5c9e3a" stroke-width="1.0" stroke-linejoin="miter"/>
<polygon points="180,327.35 182.85,332 177.15,332" fill="#fff" stroke="#5c9e3a" stroke-width="1.0" stroke-linejoin="miter"/>
<polygon points="186.9,330.25 189.75,334.9 184.05,334.9" fill="#fff" stroke="#5c9e3a" stroke-width="1.0" stroke-linejoin="miter"/>
<polygon points="194.1,331.55 196.95,336.2 191.25,336.2" fill="#fff" stroke="#5c9e3a" stroke-width="1.0" stroke-linejoin="miter"/>
<line x1="225.6" y1="334" x2="225.6" y2="346.8" stroke="#3c3c3c" stroke-width="1.0"/>
<line x1="218.9" y1="334" x2="232.3" y2="334" stroke="#3c3c3c" stroke-width="1.0"/>
<line x1="218.9" y1="346.8" x2="232.3" y2="346.8" stroke="#3c3c3c" stroke-width="1.0"/>
<line x1="212" y1="340.2" x2="239.1" y2="340.2" stroke="#141414" stroke-width="1.4"/>
<polygon points="221,311.8 224.35,317.5 217.65,317.5" fill="#613767"/>
<polygon points="230.2,319.6 233.55,325.3 226.85,325.3" fill="#613767"/>
<polygon points="221,330.3 224.35,336 217.65,336" fill="#613767"/>
<polygon points="230.7,328.3 234.05,334 227.35,334" fill="#613767"/>
<polygon points="216.2,335.1 219.55,340.8 212.85,340.8" fill="#613767"/>
<polygon points="225.7,339 229.05,344.7 222.35,344.7" fill="#613767"/>
<polygon points="234.8,341.7 238.15,347.4 231.45,347.4" fill="#613767"/>
<polygon points="221,365.9 224.35,371.6 217.65,371.6" fill="#613767"/>
<polygon points="230.2,369.6 233.55,375.3 226.85,375.3" fill="#613767"/>
<text x="283.5" y="237.2" font-size="13" style="stroke-width:0.05px">D</text>
<line x1="328.9" y1="245.8" x2="328.9" y2="392.6" stroke="#231f20" stroke-width="1.35"/>
<line x1="325.1" y1="249.5" x2="328.9" y2="249.5" stroke="#231f20" stroke-width="1.1"/>
<text x="321.8" y="252.6" font-size="8.6" text-anchor="end" textLength="18.6" lengthAdjust="spacingAndGlyphs">1000</text>
<line x1="325.1" y1="320.7" x2="328.9" y2="320.7" stroke="#231f20" stroke-width="1.1"/>
<text x="321.8" y="323.8" font-size="8.6" text-anchor="end" textLength="14" lengthAdjust="spacingAndGlyphs">100</text>
<line x1="325.1" y1="391.9" x2="328.9" y2="391.9" stroke="#231f20" stroke-width="1.1"/>
<text x="321.8" y="395" font-size="8.6" text-anchor="end" textLength="9.4" lengthAdjust="spacingAndGlyphs">10</text>
<line x1="326.3" y1="370.47" x2="328.9" y2="370.47" stroke="#231f20" stroke-width="0.9"/>
<line x1="326.3" y1="357.93" x2="328.9" y2="357.93" stroke="#231f20" stroke-width="0.9"/>
<line x1="326.3" y1="349.03" x2="328.9" y2="349.03" stroke="#231f20" stroke-width="0.9"/>
<line x1="326.3" y1="342.13" x2="328.9" y2="342.13" stroke="#231f20" stroke-width="0.9"/>
<line x1="326.3" y1="336.5" x2="328.9" y2="336.5" stroke="#231f20" stroke-width="0.9"/>
<line x1="326.3" y1="331.73" x2="328.9" y2="331.73" stroke="#231f20" stroke-width="0.9"/>
<line x1="326.3" y1="327.6" x2="328.9" y2="327.6" stroke="#231f20" stroke-width="0.9"/>
<line x1="326.3" y1="323.96" x2="328.9" y2="323.96" stroke="#231f20" stroke-width="0.9"/>
<line x1="326.3" y1="299.27" x2="328.9" y2="299.27" stroke="#231f20" stroke-width="0.9"/>
<line x1="326.3" y1="286.73" x2="328.9" y2="286.73" stroke="#231f20" stroke-width="0.9"/>
<line x1="326.3" y1="277.83" x2="328.9" y2="277.83" stroke="#231f20" stroke-width="0.9"/>
<line x1="326.3" y1="270.93" x2="328.9" y2="270.93" stroke="#231f20" stroke-width="0.9"/>
<line x1="326.3" y1="265.3" x2="328.9" y2="265.3" stroke="#231f20" stroke-width="0.9"/>
<line x1="326.3" y1="260.53" x2="328.9" y2="260.53" stroke="#231f20" stroke-width="0.9"/>
<line x1="326.3" y1="256.4" x2="328.9" y2="256.4" stroke="#231f20" stroke-width="0.9"/>
<line x1="326.3" y1="252.76" x2="328.9" y2="252.76" stroke="#231f20" stroke-width="0.9"/>
<line x1="328.2" y1="391.9" x2="511" y2="391.9" stroke="#231f20" stroke-width="1.35"/>
<line x1="357.7" y1="391.9" x2="357.7" y2="395.1" stroke="#231f20" stroke-width="1.1"/>
<line x1="399.5" y1="391.9" x2="399.5" y2="395.1" stroke="#231f20" stroke-width="1.1"/>
<line x1="441.3" y1="391.9" x2="441.3" y2="395.1" stroke="#231f20" stroke-width="1.1"/>
<line x1="483.1" y1="391.9" x2="483.1" y2="395.1" stroke="#231f20" stroke-width="1.1"/>
<text transform="translate(292.6,318.6) rotate(-90)" font-size="10.5" text-anchor="middle" textLength="137.3" lengthAdjust="spacingAndGlyphs">Blood urea nitrogen (mg/dL)</text>
<text x="283.1" y="407.7" font-size="9" textLength="24.8" lengthAdjust="spacingAndGlyphs">Donor</text>
<text x="283.1" y="421.8" font-size="9" textLength="36.5" lengthAdjust="spacingAndGlyphs">Recipient</text>
<text x="357.7" y="407.7" font-size="9" text-anchor="middle" textLength="25.3" lengthAdjust="spacingAndGlyphs">AA/B6</text>
<text x="346.6" y="421.8" font-size="9" textLength="12" lengthAdjust="spacingAndGlyphs">Fib</text>
<text x="359.3" y="418.4" font-size="7.2" textLength="9.4" lengthAdjust="spacingAndGlyphs" style="stroke-width:0.12px">WT</text>
<text x="399.5" y="407.7" font-size="9" text-anchor="middle" textLength="25.3" lengthAdjust="spacingAndGlyphs">AA/B6</text>
<text x="377.2" y="421.8" font-size="9" textLength="11.3" lengthAdjust="spacingAndGlyphs">Fib</text>
<text x="388.5" y="422.1" font-size="8.2" textLength="4.4" lengthAdjust="spacingAndGlyphs" style="font-style:italic">γ</text>
<text x="393.3" y="418.6" font-size="7.2" textLength="28.5" lengthAdjust="spacingAndGlyphs" style="stroke-width:0.12px">390-396A</text>
<text x="441.3" y="407.7" font-size="9" text-anchor="middle" textLength="9.3" lengthAdjust="spacingAndGlyphs">SS</text>
<text x="430.2" y="421.8" font-size="9" textLength="12" lengthAdjust="spacingAndGlyphs">Fib</text>
<text x="442.9" y="418.4" font-size="7.2" textLength="9.4" lengthAdjust="spacingAndGlyphs" style="stroke-width:0.12px">WT</text>
<text x="483.1" y="407.7" font-size="9" text-anchor="middle" textLength="9.3" lengthAdjust="spacingAndGlyphs">SS</text>
<text x="460.8" y="421.8" font-size="9" textLength="11.3" lengthAdjust="spacingAndGlyphs">Fib</text>
<text x="472.1" y="422.1" font-size="8.2" textLength="4.4" lengthAdjust="spacingAndGlyphs" style="font-style:italic">γ</text>
<text x="476.9" y="418.6" font-size="7.2" textLength="28.5" lengthAdjust="spacingAndGlyphs" style="stroke-width:0.12px">390-396A</text>
<polyline points="350.3,319.2 350.3,292.1 436.6,292.1 436.6,298" fill="none" stroke="#333333" stroke-width="1.15" stroke-linejoin="miter" stroke-linecap="square"/>
<text x="393.5" y="289.5" font-size="8.7" text-anchor="middle" textLength="8.7" lengthAdjust="spacingAndGlyphs">ns</text>
<polyline points="360,329.5 360,324.9 399.2,324.9 399.2,329.5" fill="none" stroke="#333333" stroke-width="1.15" stroke-linejoin="miter" stroke-linecap="square"/>
<text x="380" y="322.8" font-size="8.7" text-anchor="middle" textLength="8.7" lengthAdjust="spacingAndGlyphs">ns</text>
<polyline points="446.5,298 446.5,292.8 488.2,292.8 488.2,298" fill="none" stroke="#333333" stroke-width="1.15" stroke-linejoin="miter" stroke-linecap="square"/>
<text x="467.3" y="289.9" font-size="8.7" text-anchor="middle" textLength="8.7" lengthAdjust="spacingAndGlyphs">ns</text>
<line x1="357.6" y1="342.6" x2="357.6" y2="348.4" stroke="#3c3c3c" stroke-width="1.0"/>
<line x1="350.5" y1="342.6" x2="364.5" y2="342.6" stroke="#3c3c3c" stroke-width="1.0"/>
<line x1="350.5" y1="348.4" x2="364.5" y2="348.4" stroke="#3c3c3c" stroke-width="1.0"/>
<line x1="343.8" y1="345.4" x2="370.8" y2="345.4" stroke="#141414" stroke-width="1.4"/>
<circle cx="346.9" cy="343.5" r="2.7" fill="#fff" stroke="#a72a3c" stroke-width="1.1"/>
<circle cx="351.1" cy="344.2" r="2.7" fill="#fff" stroke="#a72a3c" stroke-width="1.1"/>
<circle cx="355.4" cy="340.5" r="2.7" fill="#fff" stroke="#a72a3c" stroke-width="1.1"/>
<circle cx="360" cy="341.1" r="2.7" fill="#fff" stroke="#a72a3c" stroke-width="1.1"/>
<circle cx="359.2" cy="343.8" r="2.7" fill="#fff" stroke="#a72a3c" stroke-width="1.1"/>
<circle cx="367.7" cy="342.3" r="2.7" fill="#fff" stroke="#a72a3c" stroke-width="1.1"/>
<circle cx="355.1" cy="349.2" r="2.7" fill="#fff" stroke="#a72a3c" stroke-width="1.1"/>
<circle cx="363.8" cy="350.3" r="2.7" fill="#fff" stroke="#a72a3c" stroke-width="1.1"/>
<circle cx="357.2" cy="361.5" r="2.7" fill="#fff" stroke="#a72a3c" stroke-width="1.1"/>
<line x1="399.5" y1="348.3" x2="399.5" y2="352.3" stroke="#3c3c3c" stroke-width="1.0"/>
<line x1="393" y1="348.3" x2="406" y2="348.3" stroke="#3c3c3c" stroke-width="1.0"/>
<line x1="393" y1="352.3" x2="406" y2="352.3" stroke="#3c3c3c" stroke-width="1.0"/>
<line x1="386" y1="350.2" x2="413" y2="350.2" stroke="#141414" stroke-width="1.4"/>
<circle cx="399.2" cy="341.5" r="3.15" fill="#3f5e8c"/>
<circle cx="410" cy="344.6" r="3.15" fill="#3f5e8c"/>
<circle cx="404.6" cy="346.2" r="3.15" fill="#3f5e8c"/>
<circle cx="388.9" cy="350" r="3.15" fill="#3f5e8c"/>
<circle cx="395.1" cy="352.3" r="3.15" fill="#3f5e8c"/>
<circle cx="399.2" cy="352.8" r="3.15" fill="#3f5e8c"/>
<circle cx="396.9" cy="356.2" r="3.15" fill="#3f5e8c"/>
<circle cx="401.8" cy="363.8" r="3.15" fill="#3f5e8c"/>
<line x1="441.4" y1="327.4" x2="441.4" y2="333.8" stroke="#3c3c3c" stroke-width="1.0"/>
<line x1="435.4" y1="327.4" x2="447.7" y2="327.4" stroke="#3c3c3c" stroke-width="1.0"/>
<line x1="435.4" y1="333.8" x2="447.7" y2="333.8" stroke="#3c3c3c" stroke-width="1.0"/>
<line x1="427.7" y1="330.3" x2="455.1" y2="330.3" stroke="#141414" stroke-width="1.4"/>
<polygon points="430.8,317.55 433.65,322.2 427.95,322.2" fill="#fff" stroke="#5c9e3a" stroke-width="1.0" stroke-linejoin="miter"/>
<polygon points="437.7,319.05 440.55,323.7 434.85,323.7" fill="#fff" stroke="#5c9e3a" stroke-width="1.0" stroke-linejoin="miter"/>
<polygon points="444.6,320.15 447.45,324.8 441.75,324.8" fill="#fff" stroke="#5c9e3a" stroke-width="1.0" stroke-linejoin="miter"/>
<polygon points="452.3,324.05 455.15,328.7 449.45,328.7" fill="#fff" stroke="#5c9e3a" stroke-width="1.0" stroke-linejoin="miter"/>
<polygon points="448.5,327.25 451.35,331.9 445.65,331.9" fill="#fff" stroke="#5c9e3a" stroke-width="1.0" stroke-linejoin="miter"/>
<polygon points="434.6,328.75 437.45,333.4 431.75,333.4" fill="#fff" stroke="#5c9e3a" stroke-width="1.0" stroke-linejoin="miter"/>
<polygon points="441.5,334.45 444.35,339.1 438.65,339.1" fill="#fff" stroke="#5c9e3a" stroke-width="1.0" stroke-linejoin="miter"/>
<polygon points="434.6,342.95 437.45,347.6 431.75,347.6" fill="#fff" stroke="#5c9e3a" stroke-width="1.0" stroke-linejoin="miter"/>
<polygon points="441.5,343.25 444.35,347.9 438.65,347.9" fill="#fff" stroke="#5c9e3a" stroke-width="1.0" stroke-linejoin="miter"/>
<polygon points="448.5,345.25 451.35,349.9 445.65,349.9" fill="#fff" stroke="#5c9e3a" stroke-width="1.0" stroke-linejoin="miter"/>
<line x1="483.3" y1="336.2" x2="483.3" y2="343.5" stroke="#3c3c3c" stroke-width="1.0"/>
<line x1="476.6" y1="336.2" x2="490" y2="336.2" stroke="#3c3c3c" stroke-width="1.0"/>
<line x1="476.6" y1="343.5" x2="490" y2="343.5" stroke="#3c3c3c" stroke-width="1.0"/>
<line x1="470" y1="339.5" x2="496.9" y2="339.5" stroke="#141414" stroke-width="1.4"/>
<polygon points="481.2,326.2 484.55,331.9 477.85,331.9" fill="#613767"/>
<polygon points="485.4,327.8 488.75,333.5 482.05,333.5" fill="#613767"/>
<polygon points="490,329.8 493.35,335.5 486.65,335.5" fill="#613767"/>
<polygon points="494.2,330.5 497.55,336.2 490.85,336.2" fill="#613767"/>
<polygon points="473.1,333.9 476.45,339.6 469.75,339.6" fill="#613767"/>
<polygon points="477.2,333.2 480.55,338.9 473.85,338.9" fill="#613767"/>
<polygon points="483.1,344.7 486.45,350.4 479.75,350.4" fill="#613767"/>
<polygon points="481.5,346.2 484.85,351.9 478.15,351.9" fill="#613767"/>
<polygon points="485.8,354.7 489.15,360.4 482.45,360.4" fill="#613767"/>
<polygon points="483.4,368.5 486.75,374.2 480.05,374.2" fill="#613767"/>
<text x="9" y="461" font-size="13" style="stroke-width:0.05px">E</text>
<line x1="71.3" y1="491.4" x2="71.3" y2="638.7" stroke="#231f20" stroke-width="1.35"/>
<line x1="67.5" y1="495.2" x2="71.3" y2="495.2" stroke="#231f20" stroke-width="1.1"/>
<text x="64.3" y="498.3" font-size="8.6" text-anchor="end" textLength="19.1" lengthAdjust="spacingAndGlyphs">4096</text>
<line x1="67.5" y1="542.8" x2="71.3" y2="542.8" stroke="#231f20" stroke-width="1.1"/>
<text x="64.3" y="545.9" font-size="8.6" text-anchor="end" textLength="19.1" lengthAdjust="spacingAndGlyphs">2048</text>
<line x1="67.5" y1="590.4" x2="71.3" y2="590.4" stroke="#231f20" stroke-width="1.1"/>
<text x="64.3" y="593.5" font-size="8.6" text-anchor="end" textLength="19.1" lengthAdjust="spacingAndGlyphs">1024</text>
<line x1="67.5" y1="638" x2="71.3" y2="638" stroke="#231f20" stroke-width="1.1"/>
<text x="64.3" y="641.1" font-size="8.6" text-anchor="end" textLength="14.3" lengthAdjust="spacingAndGlyphs">512</text>
<line x1="70.6" y1="638" x2="253.6" y2="638" stroke="#231f20" stroke-width="1.35"/>
<line x1="98.9" y1="638" x2="98.9" y2="641.2" stroke="#231f20" stroke-width="1.1"/>
<line x1="141.1" y1="638" x2="141.1" y2="641.2" stroke="#231f20" stroke-width="1.1"/>
<line x1="183.3" y1="638" x2="183.3" y2="641.2" stroke="#231f20" stroke-width="1.1"/>
<line x1="225.3" y1="638" x2="225.3" y2="641.2" stroke="#231f20" stroke-width="1.1"/>
<text transform="translate(35.8,564.9) rotate(-90)" font-size="10.5" text-anchor="middle" textLength="132.6" lengthAdjust="spacingAndGlyphs">Urine osmolality (mmol/kg)</text>
<text x="25" y="653.1" font-size="9" textLength="24.8" lengthAdjust="spacingAndGlyphs">Donor</text>
<text x="25" y="667.5" font-size="9" textLength="36.5" lengthAdjust="spacingAndGlyphs">Recipient</text>
<text x="98.9" y="653.1" font-size="9" text-anchor="middle" textLength="25.3" lengthAdjust="spacingAndGlyphs">AA/B6</text>
<text x="87.8" y="667.5" font-size="9" textLength="12" lengthAdjust="spacingAndGlyphs">Fib</text>
<text x="100.5" y="664.1" font-size="7.2" textLength="9.4" lengthAdjust="spacingAndGlyphs" style="stroke-width:0.12px">WT</text>
<text x="141.1" y="653.1" font-size="9" text-anchor="middle" textLength="25.3" lengthAdjust="spacingAndGlyphs">AA/B6</text>
<text x="118.8" y="667.5" font-size="9" textLength="11.3" lengthAdjust="spacingAndGlyphs">Fib</text>
<text x="130.1" y="667.8" font-size="8.2" textLength="4.4" lengthAdjust="spacingAndGlyphs" style="font-style:italic">γ</text>
<text x="134.9" y="664.3" font-size="7.2" textLength="28.5" lengthAdjust="spacingAndGlyphs" style="stroke-width:0.12px">390-396A</text>
<text x="183.3" y="653.1" font-size="9" text-anchor="middle" textLength="9.3" lengthAdjust="spacingAndGlyphs">SS</text>
<text x="172.2" y="667.5" font-size="9" textLength="12" lengthAdjust="spacingAndGlyphs">Fib</text>
<text x="184.9" y="664.1" font-size="7.2" textLength="9.4" lengthAdjust="spacingAndGlyphs" style="stroke-width:0.12px">WT</text>
<text x="225.3" y="653.1" font-size="9" text-anchor="middle" textLength="9.3" lengthAdjust="spacingAndGlyphs">SS</text>
<text x="203" y="667.5" font-size="9" textLength="11.3" lengthAdjust="spacingAndGlyphs">Fib</text>
<text x="214.3" y="667.8" font-size="8.2" textLength="4.4" lengthAdjust="spacingAndGlyphs" style="font-style:italic">γ</text>
<text x="219.1" y="664.3" font-size="7.2" textLength="28.5" lengthAdjust="spacingAndGlyphs" style="stroke-width:0.12px">390-396A</text>
<polyline points="94.5,476.6 94.5,472.9 179.3,472.9 179.3,500" fill="none" stroke="#333333" stroke-width="1.15" stroke-linejoin="miter" stroke-linecap="square"/>
<path d="M132.1 468.8L136.1 468.8M133.1 467.07L135.1 470.53M133.1 470.53L135.1 467.07" stroke="#444" stroke-width="0.85" stroke-linecap="round"/>
<circle cx="134.1" cy="468.8" r="0.75" fill="#222"/>
<path d="M137.2 468.8L141.2 468.8M138.2 467.07L140.2 470.53M138.2 470.53L140.2 467.07" stroke="#444" stroke-width="0.85" stroke-linecap="round"/>
<circle cx="139.2" cy="468.8" r="0.75" fill="#222"/>
<polyline points="144.2,466.5 144.2,461.8 237.3,461.8 237.3,502.3" fill="none" stroke="#333333" stroke-width="1.15" stroke-linejoin="miter" stroke-linecap="square"/>
<text x="190.8" y="459.5" font-size="9" text-anchor="middle" textLength="11.6" lengthAdjust="spacingAndGlyphs">.09</text>
<polyline points="96.5,496.3 96.5,492.3 143.9,492.3 143.9,496.3" fill="none" stroke="#333333" stroke-width="1.15" stroke-linejoin="miter" stroke-linecap="square"/>
<text x="120.7" y="486.9" font-size="8.7" text-anchor="middle" textLength="8.7" lengthAdjust="spacingAndGlyphs">ns</text>
<polyline points="186.5,500 186.5,495.8 230.8,495.8 230.8,500" fill="none" stroke="#333333" stroke-width="1.15" stroke-linejoin="miter" stroke-linecap="square"/>
<text x="208.8" y="490.3" font-size="8.7" text-anchor="middle" textLength="8.7" lengthAdjust="spacingAndGlyphs">ns</text>
<line x1="99.3" y1="525.9" x2="99.3" y2="533" stroke="#3c3c3c" stroke-width="1.0"/>
<line x1="92.7" y1="525.9" x2="106" y2="525.9" stroke="#3c3c3c" stroke-width="1.0"/>
<line x1="92.7" y1="533" x2="106" y2="533" stroke="#3c3c3c" stroke-width="1.0"/>
<line x1="85.6" y1="529.4" x2="112.8" y2="529.4" stroke="#141414" stroke-width="1.4"/>
<circle cx="99.5" cy="504.4" r="2.7" fill="#fff" stroke="#a72a3c" stroke-width="1.1"/>
<circle cx="99.5" cy="507.7" r="2.7" fill="#fff" stroke="#a72a3c" stroke-width="1.1"/>
<circle cx="103.9" cy="509.4" r="2.7" fill="#fff" stroke="#a72a3c" stroke-width="1.1"/>
<circle cx="90.9" cy="514.5" r="2.7" fill="#fff" stroke="#a72a3c" stroke-width="1.1"/>
<circle cx="95" cy="513.9" r="2.7" fill="#fff" stroke="#a72a3c" stroke-width="1.1"/>
<circle cx="108" cy="515" r="2.7" fill="#fff" stroke="#a72a3c" stroke-width="1.1"/>
<circle cx="90.9" cy="518" r="2.7" fill="#fff" stroke="#a72a3c" stroke-width="1.1"/>
<circle cx="95.6" cy="518.6" r="2.7" fill="#fff" stroke="#a72a3c" stroke-width="1.1"/>
<circle cx="99.8" cy="519.8" r="2.7" fill="#fff" stroke="#a72a3c" stroke-width="1.1"/>
<circle cx="107.8" cy="520.4" r="2.7" fill="#fff" stroke="#a72a3c" stroke-width="1.1"/>
<circle cx="103.9" cy="525.1" r="2.7" fill="#fff" stroke="#a72a3c" stroke-width="1.1"/>
<circle cx="88.6" cy="530.7" r="2.7" fill="#fff" stroke="#a72a3c" stroke-width="1.1"/>
<circle cx="93.3" cy="531.3" r="2.7" fill="#fff" stroke="#a72a3c" stroke-width="1.1"/>
<circle cx="101.5" cy="530.7" r="2.7" fill="#fff" stroke="#a72a3c" stroke-width="1.1"/>
<circle cx="110.1" cy="529.2" r="2.7" fill="#fff" stroke="#a72a3c" stroke-width="1.1"/>
<circle cx="97.4" cy="534.9" r="2.7" fill="#fff" stroke="#a72a3c" stroke-width="1.1"/>
<circle cx="105.9" cy="535.1" r="2.7" fill="#fff" stroke="#a72a3c" stroke-width="1.1"/>
<circle cx="103.9" cy="539.2" r="2.7" fill="#fff" stroke="#a72a3c" stroke-width="1.1"/>
<circle cx="99.5" cy="542.8" r="2.7" fill="#fff" stroke="#a72a3c" stroke-width="1.1"/>
<circle cx="95.3" cy="546.7" r="2.7" fill="#fff" stroke="#a72a3c" stroke-width="1.1"/>
<circle cx="99.5" cy="555.7" r="2.7" fill="#fff" stroke="#a72a3c" stroke-width="1.1"/>
<circle cx="97.4" cy="570.2" r="2.7" fill="#fff" stroke="#a72a3c" stroke-width="1.1"/>
<circle cx="101.5" cy="573.2" r="2.7" fill="#fff" stroke="#a72a3c" stroke-width="1.1"/>
<circle cx="99.5" cy="603.9" r="2.7" fill="#fff" stroke="#a72a3c" stroke-width="1.1"/>
<line x1="141.3" y1="528" x2="141.3" y2="535.8" stroke="#3c3c3c" stroke-width="1.0"/>
<line x1="134.7" y1="528" x2="148.3" y2="528" stroke="#3c3c3c" stroke-width="1.0"/>
<line x1="134.7" y1="535.8" x2="148.3" y2="535.8" stroke="#3c3c3c" stroke-width="1.0"/>
<line x1="128.3" y1="531.9" x2="154.8" y2="531.9" stroke="#141414" stroke-width="1.4"/>
<circle cx="141.5" cy="501.8" r="3.15" fill="#3f5e8c"/>
<circle cx="135.5" cy="520.1" r="3.15" fill="#3f5e8c"/>
<circle cx="141.6" cy="518.3" r="3.15" fill="#3f5e8c"/>
<circle cx="147.4" cy="518.9" r="3.15" fill="#3f5e8c"/>
<circle cx="143" cy="519.5" r="3.15" fill="#3f5e8c"/>
<circle cx="131.5" cy="524.4" r="3.15" fill="#3f5e8c"/>
<circle cx="136.5" cy="523.5" r="3.15" fill="#3f5e8c"/>
<circle cx="146.8" cy="525" r="3.15" fill="#3f5e8c"/>
<circle cx="151.4" cy="526.4" r="3.15" fill="#3f5e8c"/>
<circle cx="138.5" cy="529.5" r="3.15" fill="#3f5e8c"/>
<circle cx="141.5" cy="530.5" r="3.15" fill="#3f5e8c"/>
<circle cx="143.9" cy="536.2" r="3.15" fill="#3f5e8c"/>
<circle cx="138.4" cy="540.9" r="3.15" fill="#3f5e8c"/>
<circle cx="138.5" cy="551" r="3.15" fill="#3f5e8c"/>
<circle cx="144.5" cy="551" r="3.15" fill="#3f5e8c"/>
<circle cx="141.5" cy="568.3" r="3.15" fill="#3f5e8c"/>
<circle cx="141.5" cy="599.7" r="3.15" fill="#3f5e8c"/>
<line x1="183.4" y1="548.3" x2="183.4" y2="558" stroke="#3c3c3c" stroke-width="1.0"/>
<line x1="176.5" y1="548.3" x2="190" y2="548.3" stroke="#3c3c3c" stroke-width="1.0"/>
<line x1="176.5" y1="558" x2="190" y2="558" stroke="#3c3c3c" stroke-width="1.0"/>
<line x1="170" y1="552.8" x2="197.1" y2="552.8" stroke="#141414" stroke-width="1.4"/>
<polygon points="183.3,508.35 186.15,513 180.45,513" fill="#fff" stroke="#5c9e3a" stroke-width="1.0" stroke-linejoin="miter"/>
<polygon points="181.5,524.05 184.35,528.7 178.65,528.7" fill="#fff" stroke="#5c9e3a" stroke-width="1.0" stroke-linejoin="miter"/>
<polygon points="185.4,525.65 188.25,530.3 182.55,530.3" fill="#fff" stroke="#5c9e3a" stroke-width="1.0" stroke-linejoin="miter"/>
<polygon points="173,531.15 175.85,535.8 170.15,535.8" fill="#fff" stroke="#5c9e3a" stroke-width="1.0" stroke-linejoin="miter"/>
<polygon points="180,531.75 182.85,536.4 177.15,536.4" fill="#fff" stroke="#5c9e3a" stroke-width="1.0" stroke-linejoin="miter"/>
<polygon points="186.9,531.75 189.75,536.4 184.05,536.4" fill="#fff" stroke="#5c9e3a" stroke-width="1.0" stroke-linejoin="miter"/>
<polygon points="176.5,535.85 179.35,540.5 173.65,540.5" fill="#fff" stroke="#5c9e3a" stroke-width="1.0" stroke-linejoin="miter"/>
<polygon points="183.6,535.25 186.45,539.9 180.75,539.9" fill="#fff" stroke="#5c9e3a" stroke-width="1.0" stroke-linejoin="miter"/>
<polygon points="190.4,535.05 193.25,539.7 187.55,539.7" fill="#fff" stroke="#5c9e3a" stroke-width="1.0" stroke-linejoin="miter"/>
<polygon points="194.2,537.45 197.05,542.1 191.35,542.1" fill="#fff" stroke="#5c9e3a" stroke-width="1.0" stroke-linejoin="miter"/>
<polygon points="180,542.15 182.85,546.8 177.15,546.8" fill="#fff" stroke="#5c9e3a" stroke-width="1.0" stroke-linejoin="miter"/>
<polygon points="183.6,544.15 186.45,548.8 180.75,548.8" fill="#fff" stroke="#5c9e3a" stroke-width="1.0" stroke-linejoin="miter"/>
<polygon points="187.4,545.85 190.25,550.5 184.55,550.5" fill="#fff" stroke="#5c9e3a" stroke-width="1.0" stroke-linejoin="miter"/>
<polygon points="183.6,548.25 186.45,552.9 180.75,552.9" fill="#fff" stroke="#5c9e3a" stroke-width="1.0" stroke-linejoin="miter"/>
<polygon points="176.5,550.35 179.35,555 173.65,555" fill="#fff" stroke="#5c9e3a" stroke-width="1.0" stroke-linejoin="miter"/>
<polygon points="180.3,552.05 183.15,556.7 177.45,556.7" fill="#fff" stroke="#5c9e3a" stroke-width="1.0" stroke-linejoin="miter"/>
<polygon points="190.4,550.85 193.25,555.5 187.55,555.5" fill="#fff" stroke="#5c9e3a" stroke-width="1.0" stroke-linejoin="miter"/>
<polygon points="186.9,556.55 189.75,561.2 184.05,561.2" fill="#fff" stroke="#5c9e3a" stroke-width="1.0" stroke-linejoin="miter"/>
<polygon points="183.6,565.15 186.45,569.8 180.75,569.8" fill="#fff" stroke="#5c9e3a" stroke-width="1.0" stroke-linejoin="miter"/>
<polygon points="181.5,570.15 184.35,574.8 178.65,574.8" fill="#fff" stroke="#5c9e3a" stroke-width="1.0" stroke-linejoin="miter"/>
<polygon points="178.6,574.65 181.45,579.3 175.75,579.3" fill="#fff" stroke="#5c9e3a" stroke-width="1.0" stroke-linejoin="miter"/>
<polygon points="185.4,573.55 188.25,578.2 182.55,578.2" fill="#fff" stroke="#5c9e3a" stroke-width="1.0" stroke-linejoin="miter"/>
<polygon points="189.2,573.75 192.05,578.4 186.35,578.4" fill="#fff" stroke="#5c9e3a" stroke-width="1.0" stroke-linejoin="miter"/>
<polygon points="183.3,593.55 186.15,598.2 180.45,598.2" fill="#fff" stroke="#5c9e3a" stroke-width="1.0" stroke-linejoin="miter"/>
<polygon points="181.8,602.35 184.65,607 178.95,607" fill="#fff" stroke="#5c9e3a" stroke-width="1.0" stroke-linejoin="miter"/>
<polygon points="185.4,610.05 188.25,614.7 182.55,614.7" fill="#fff" stroke="#5c9e3a" stroke-width="1.0" stroke-linejoin="miter"/>
<polygon points="181.5,617.15 184.35,621.8 178.65,621.8" fill="#fff" stroke="#5c9e3a" stroke-width="1.0" stroke-linejoin="miter"/>
<polygon points="185.4,619.15 188.25,623.8 182.55,623.8" fill="#fff" stroke="#5c9e3a" stroke-width="1.0" stroke-linejoin="miter"/>
<line x1="225.4" y1="539.5" x2="225.4" y2="548.9" stroke="#3c3c3c" stroke-width="1.0"/>
<line x1="218.9" y1="539.5" x2="231.8" y2="539.5" stroke="#3c3c3c" stroke-width="1.0"/>
<line x1="218.9" y1="548.9" x2="231.8" y2="548.9" stroke="#3c3c3c" stroke-width="1.0"/>
<line x1="211.8" y1="544.6" x2="238.9" y2="544.6" stroke="#141414" stroke-width="1.4"/>
<polygon points="228.3,508.8 231.65,514.5 224.95,514.5" fill="#613767"/>
<polygon points="223,516.8 226.35,522.5 219.65,522.5" fill="#613767"/>
<polygon points="215.1,528.6 218.45,534.3 211.75,534.3" fill="#613767"/>
<polygon points="220.3,529.8 223.65,535.5 216.95,535.5" fill="#613767"/>
<polygon points="225.7,527.1 229.05,532.8 222.35,532.8" fill="#613767"/>
<polygon points="230.9,535 234.25,540.7 227.55,540.7" fill="#613767"/>
<polygon points="236,535.3 239.35,541 232.65,541" fill="#613767"/>
<polygon points="225.4,538.9 228.75,544.6 222.05,544.6" fill="#613767"/>
<polygon points="230.9,538.9 234.25,544.6 227.55,544.6" fill="#613767"/>
<polygon points="215.1,543.6 218.45,549.3 211.75,549.3" fill="#613767"/>
<polygon points="236,543 239.35,548.7 232.65,548.7" fill="#613767"/>
<polygon points="215.1,547.7 218.45,553.4 211.75,553.4" fill="#613767"/>
<polygon points="220.3,545.9 223.65,551.6 216.95,551.6" fill="#613767"/>
<polygon points="230.9,549.5 234.25,555.2 227.55,555.2" fill="#613767"/>
<polygon points="220.3,551.8 223.65,557.5 216.95,557.5" fill="#613767"/>
<polygon points="236,552.4 239.35,558.1 232.65,558.1" fill="#613767"/>
<polygon points="225.4,554.8 228.75,560.5 222.05,560.5" fill="#613767"/>
<polygon points="217.7,560.6 221.05,566.3 214.35,566.3" fill="#613767"/>
<polygon points="223,560.6 226.35,566.3 219.65,566.3" fill="#613767"/>
<polygon points="228.3,559.8 231.65,565.5 224.95,565.5" fill="#613767"/>
<polygon points="233.6,563.9 236.95,569.6 230.25,569.6" fill="#613767"/>
<polygon points="230.9,566.4 234.25,572.1 227.55,572.1" fill="#613767"/>
<polygon points="225.4,570.8 228.75,576.5 222.05,576.5" fill="#613767"/>
<polygon points="220.3,574.5 223.65,580.2 216.95,580.2" fill="#613767"/>
<polygon points="220.3,578.2 223.65,583.9 216.95,583.9" fill="#613767"/>
<polygon points="225.4,578.5 228.75,584.2 222.05,584.2" fill="#613767"/>
<polygon points="230.9,584.4 234.25,590.1 227.55,590.1" fill="#613767"/>
<polygon points="225.4,596.5 228.75,602.2 222.05,602.2" fill="#613767"/>
<rect x="0" y="0" width="2" height="679" fill="#575757"/>
<rect x="0" y="0" width="520" height="1" fill="#111"/>
<rect x="518.1" y="0" width="1.9" height="679" fill="#585858"/>
<rect x="0" y="676.9" width="520" height="2.1" fill="#585858"/>
</svg>
</body></html>
